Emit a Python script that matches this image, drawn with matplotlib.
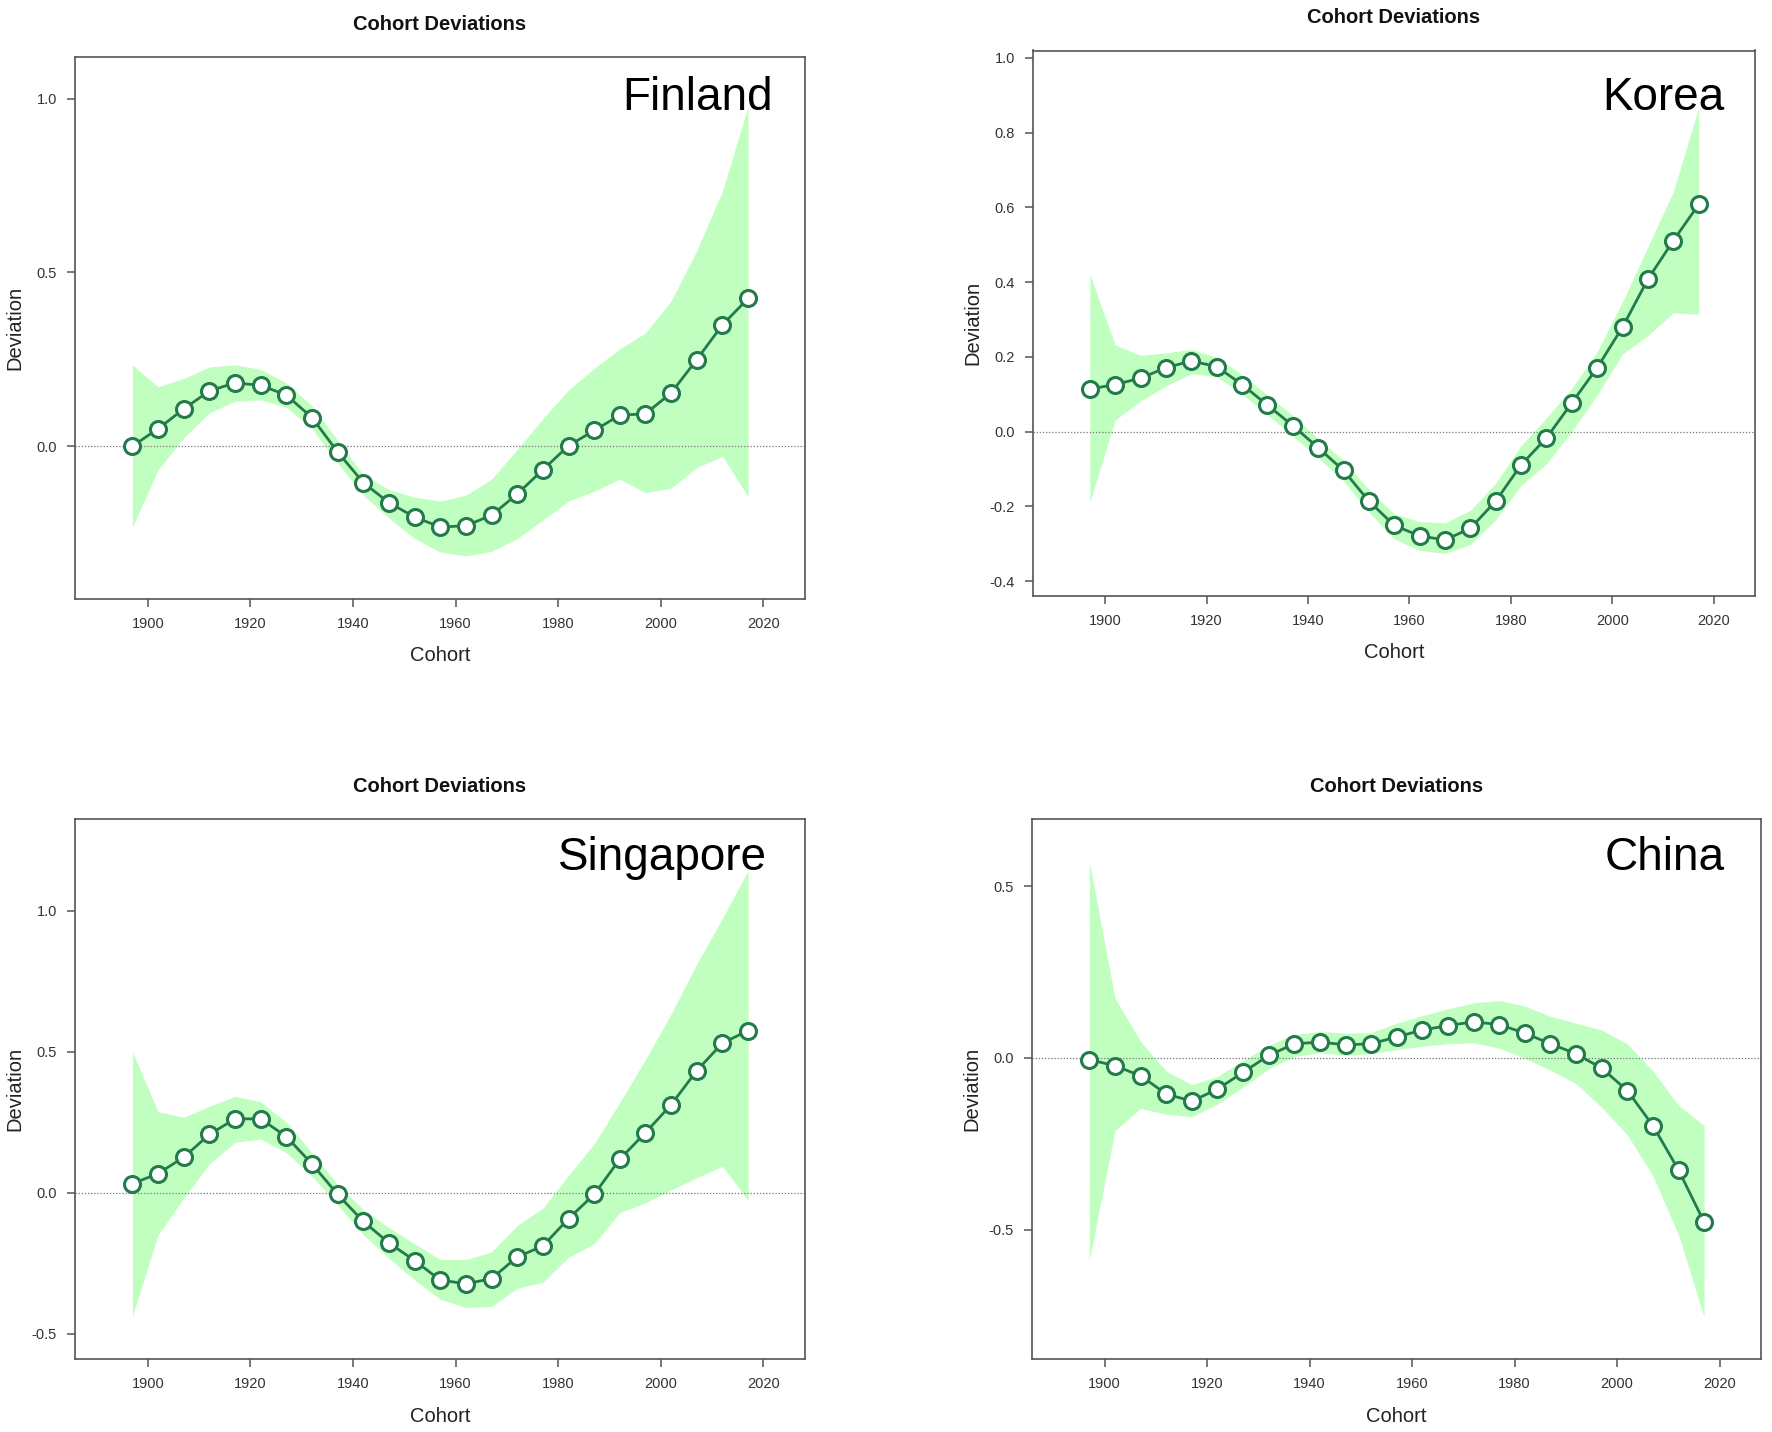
import numpy as np
import matplotlib
matplotlib.use("Agg")
import matplotlib.pyplot as plt

plt.rcParams['font.family'] = ['Liberation Sans', 'DejaVu Sans']

W, H = 1772, 1432

cohort = np.arange(1897, 2018, 5)

# estimated cohort deviations with their confidence bands
fin_est = [0.0, 0.05, 0.107, 0.159, 0.182, 0.175, 0.147, 0.082, -0.017, -0.105, -0.163, -0.204, -0.233,
           -0.229, -0.199, -0.138, -0.068, 0.001, 0.045, 0.089, 0.093, 0.153, 0.249, 0.349, 0.425]
fin_hi = [0.234, 0.171, 0.195, 0.228, 0.234, 0.221, 0.182, 0.116, 0.017, -0.082, -0.125, -0.147, -0.158,
          -0.141, -0.095, -0.009, 0.079, 0.162, 0.224, 0.28, 0.326, 0.418, 0.563, 0.734, 0.978]
fin_lo = [-0.233, -0.068, 0.024, 0.096, 0.129, 0.133, 0.112, 0.05, -0.049, -0.141, -0.207, -0.266, -0.305,
          -0.316, -0.303, -0.266, -0.213, -0.158, -0.13, -0.095, -0.134, -0.121, -0.062, -0.029, -0.145]

kor_est = [0.114, 0.126, 0.143, 0.171, 0.189, 0.174, 0.126, 0.071, 0.016, -0.043, -0.104, -0.186, -0.251,
           -0.279, -0.29, -0.259, -0.186, -0.089, -0.017, 0.077, 0.171, 0.28, 0.408, 0.511, 0.608]
kor_hi = [0.422, 0.232, 0.204, 0.211, 0.22, 0.199, 0.153, 0.098, 0.043, -0.018, -0.077, -0.155, -0.22,
          -0.241, -0.244, -0.211, -0.138, -0.037, 0.037, 0.116, 0.214, 0.348, 0.495, 0.642, 0.868]
kor_lo = [-0.189, 0.031, 0.082, 0.122, 0.155, 0.147, 0.101, 0.045, -0.012, -0.07, -0.132, -0.216, -0.287,
          -0.318, -0.326, -0.302, -0.236, -0.144, -0.086, 0.0, 0.098, 0.208, 0.257, 0.318, 0.314]

sgp_est = [0.032, 0.068, 0.126, 0.207, 0.262, 0.262, 0.199, 0.102, -0.006, -0.102, -0.178, -0.241, -0.31,
           -0.323, -0.305, -0.228, -0.189, -0.092, -0.006, 0.119, 0.213, 0.312, 0.433, 0.531, 0.575]
sgp_hi = [0.5, 0.287, 0.268, 0.307, 0.342, 0.323, 0.25, 0.142, 0.029, -0.06, -0.124, -0.181, -0.237,
          -0.237, -0.21, -0.116, -0.055, 0.061, 0.174, 0.32, 0.473, 0.635, 0.812, 0.974, 1.143]
sgp_lo = [-0.439, -0.149, -0.019, 0.102, 0.179, 0.19, 0.142, 0.058, -0.044, -0.149, -0.233, -0.31, -0.378,
          -0.407, -0.404, -0.339, -0.318, -0.229, -0.181, -0.071, -0.036, 0.01, 0.053, 0.094, -0.027]

chn_est = [-0.005, -0.023, -0.052, -0.105, -0.126, -0.091, -0.042, 0.007, 0.041, 0.046, 0.038, 0.041, 0.061,
           0.081, 0.094, 0.105, 0.097, 0.072, 0.041, 0.012, -0.03, -0.095, -0.197, -0.326, -0.478]
chn_hi = [0.571, 0.174, 0.048, -0.038, -0.078, -0.054, -0.008, 0.037, 0.068, 0.077, 0.072, 0.074, 0.101,
          0.123, 0.143, 0.16, 0.167, 0.151, 0.121, 0.101, 0.081, 0.041, -0.038, -0.138, -0.197]
chn_lo = [-0.588, -0.211, -0.147, -0.164, -0.171, -0.134, -0.085, -0.032, 0.004, 0.015, 0.008, 0.012, 0.024,
          0.034, 0.041, 0.044, 0.028, -0.001, -0.036, -0.075, -0.144, -0.224, -0.343, -0.515, -0.754]

countries = ["Finland", "Korea", "Singapore", "China"]
yticks = [[0.0, 0.5, 1.0],
          [-0.4, -0.2, 0.0, 0.2, 0.4, 0.6, 0.8, 1.0],
          [-0.5, 0.0, 0.5, 1.0],
          [-0.5, 0.0, 0.5]]
ylims = [(-0.44, 1.12), (-0.44, 1.02), (-0.59, 1.326), (-0.876, 0.695)]

# panel boxes in pixels: left, right, top, bottom
boxes = [(75, 805, 57, 599), (1033, 1755, 50.5, 596), (75, 805, 819, 1359), (1032, 1761, 819, 1359)]
# name label: right edge and baseline in pixels
name_pos = [(773, 110.5), (1724, 110.5), (767, 870.5), (1725, 870.5)]

data = [(fin_est, fin_lo, fin_hi), (kor_est, kor_lo, kor_hi), (sgp_est, sgp_lo, sgp_hi), (chn_est, chn_lo, chn_hi)]

line_col = '#237a4b'
band_col = '#c1ffc1'
axis_col = '#555555'

fig = plt.figure(figsize=(W / 100, H / 100), dpi=100)

for i in range(4):
    l, r, t, b = boxes[i]
    ax = fig.add_axes([l / W, 1 - b / H, (r - l) / W, (b - t) / H])
    est, lo, hi = data[i]
    ax.fill_between(cohort, lo, hi, color=band_col, linewidth=0, zorder=1)
    ax.axhline(0, color='#777777', linestyle=(0, (1, 1.5)), linewidth=0.9, zorder=2)
    ax.plot(cohort, est, color=line_col, linewidth=2.0, marker='o', markersize=11.5,
            markerfacecolor='white', markeredgecolor=line_col, markeredgewidth=2.2, zorder=3)
    ax.set_xlim(1885.8, 2028.1)
    ax.set_ylim(*ylims[i])
    ax.set_xticks([1900, 1920, 1940, 1960, 1980, 2000, 2020])
    ax.set_yticks(yticks[i])
    ax.set_yticklabels([f"{v:.1f}" for v in yticks[i]])
    for s in ax.spines.values():
        s.set_color(axis_col)
        s.set_linewidth(1.2)
    ax.tick_params(axis='both', colors=axis_col, labelcolor='#333333', labelsize=10.5,
                   length=6, width=1.1, pad=7)
    ax.set_xlabel("Cohort", fontsize=14.5, color='#222222', va='center')
    ax.set_ylabel("Deviation", fontsize=14.5, color='#222222', va='center')
    ax.xaxis.set_label_coords(0.5, -57 / (b - t))
    ax.yaxis.set_label_coords(-60 / (r - l), 0.5)
    fig.text((l + r) / 2 / W, 1 - (t - 33) / H, "Cohort Deviations", fontsize=14.5,
             fontweight='bold', ha='center', va='center', color='#111111')
    nx, ny = name_pos[i]
    fig.text(nx / W, 1 - ny / H, countries[i], fontsize=33, ha='right', va='baseline', color='black')

fig.savefig("out.png", dpi=100)
